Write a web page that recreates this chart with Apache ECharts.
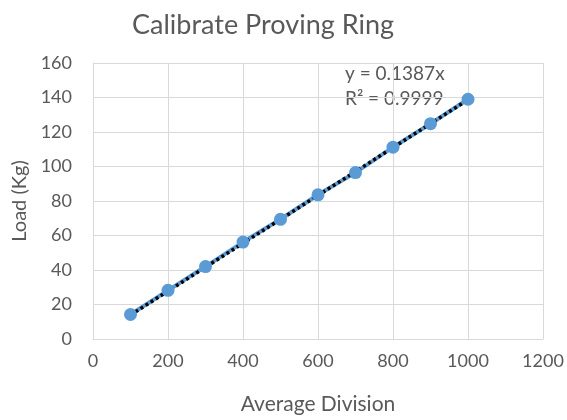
<!DOCTYPE html>
<html>
<head>
<meta charset="utf-8">
<script src="https://cdn.jsdelivr.net/npm/echarts@6/dist/echarts.min.js"></script>
<style>html,body{margin:0;padding:0;background:#fff}#c{width:567px;height:420px}</style>
</head>
<body>
<div id="c"></div>
<script>
const divisions = [100, 200, 300, 400, 500, 600, 700, 800, 900, 1000];
const loads = [14.2, 28.2, 42, 56.2, 69.4, 83.6, 96.5, 111.2, 124.8, 139];
const trendX = [100, 1000];
const trendY = [13.87, 138.7];
const eqLines = ['y = 0.1387x', 'R² = 0.9999'];
const titleText = 'Calibrate Proving Ring';
const xName = 'Average Division';
const yName = 'Load (Kg)';

const FONT = 'Lato, "Open Sans", sans-serif';
const TXT = '#595959';
const chart = echarts.init(document.getElementById('c'), null, {renderer: 'canvas'});
const pts = divisions.map((d, i) => [d, loads[i]]);
const trend = trendX.map((d, i) => [d, trendY[i]]);
chart.setOption({
  animation: false,
  backgroundColor: '#fff',
  title: {
    text: titleText, left: 258, top: 7, textAlign: 'center',
    textStyle: {fontFamily: FONT, fontSize: 27, fontWeight: 'normal', color: TXT}
  },
  grid: {left: 93, right: 24, top: 63, bottom: 75, containLabel: false},
  xAxis: {
    type: 'value', min: 0, max: 1200, interval: 200,
    name: xName, nameLocation: 'middle', nameGap: 55,
    nameTextStyle: {fontFamily: FONT, fontSize: 21, color: TXT},
    axisLine: {show: true, lineStyle: {color: '#d9d9d9', width: 1}},
    axisTick: {show: false},
    splitLine: {show: true, lineStyle: {color: '#d9d9d9', width: 1}},
    axisLabel: {fontFamily: FONT, fontSize: 18, color: TXT, margin: 13, formatter: v => String(v)}
  },
  yAxis: {
    type: 'value', min: 0, max: 160, interval: 20,
    name: yName, nameLocation: 'middle', nameGap: 60, nameRotate: 90,
    nameTextStyle: {fontFamily: FONT, fontSize: 20, color: TXT},
    axisLine: {show: true, lineStyle: {color: '#d9d9d9', width: 1}},
    axisTick: {show: false},
    splitLine: {show: true, lineStyle: {color: '#d9d9d9', width: 1}},
    axisLabel: {fontFamily: FONT, fontSize: 18, color: TXT, margin: 21}
  },
  series: [
    {
      type: 'line', data: pts, showSymbol: false, z: 2,
      lineStyle: {color: '#5b9bd5', width: 4}
    },
    {
      type: 'line', data: trend, showSymbol: false, z: 3,
      lineStyle: {color: '#000', width: 3.5, type: [3, 3], cap: 'butt'}
    },
    {
      type: 'scatter', data: pts, symbol: 'circle', symbolSize: 13, z: 4,
      itemStyle: {color: '#5b9bd5', opacity: 1}
    }
  ],
  graphic: [
    {
      type: 'text', left: 345, top: 61,
      style: {text: eqLines.join('\n'), fontFamily: FONT, fontSize: 19, lineHeight: 25, fill: TXT}
    }
  ]
});
</script>
</body>
</html>
